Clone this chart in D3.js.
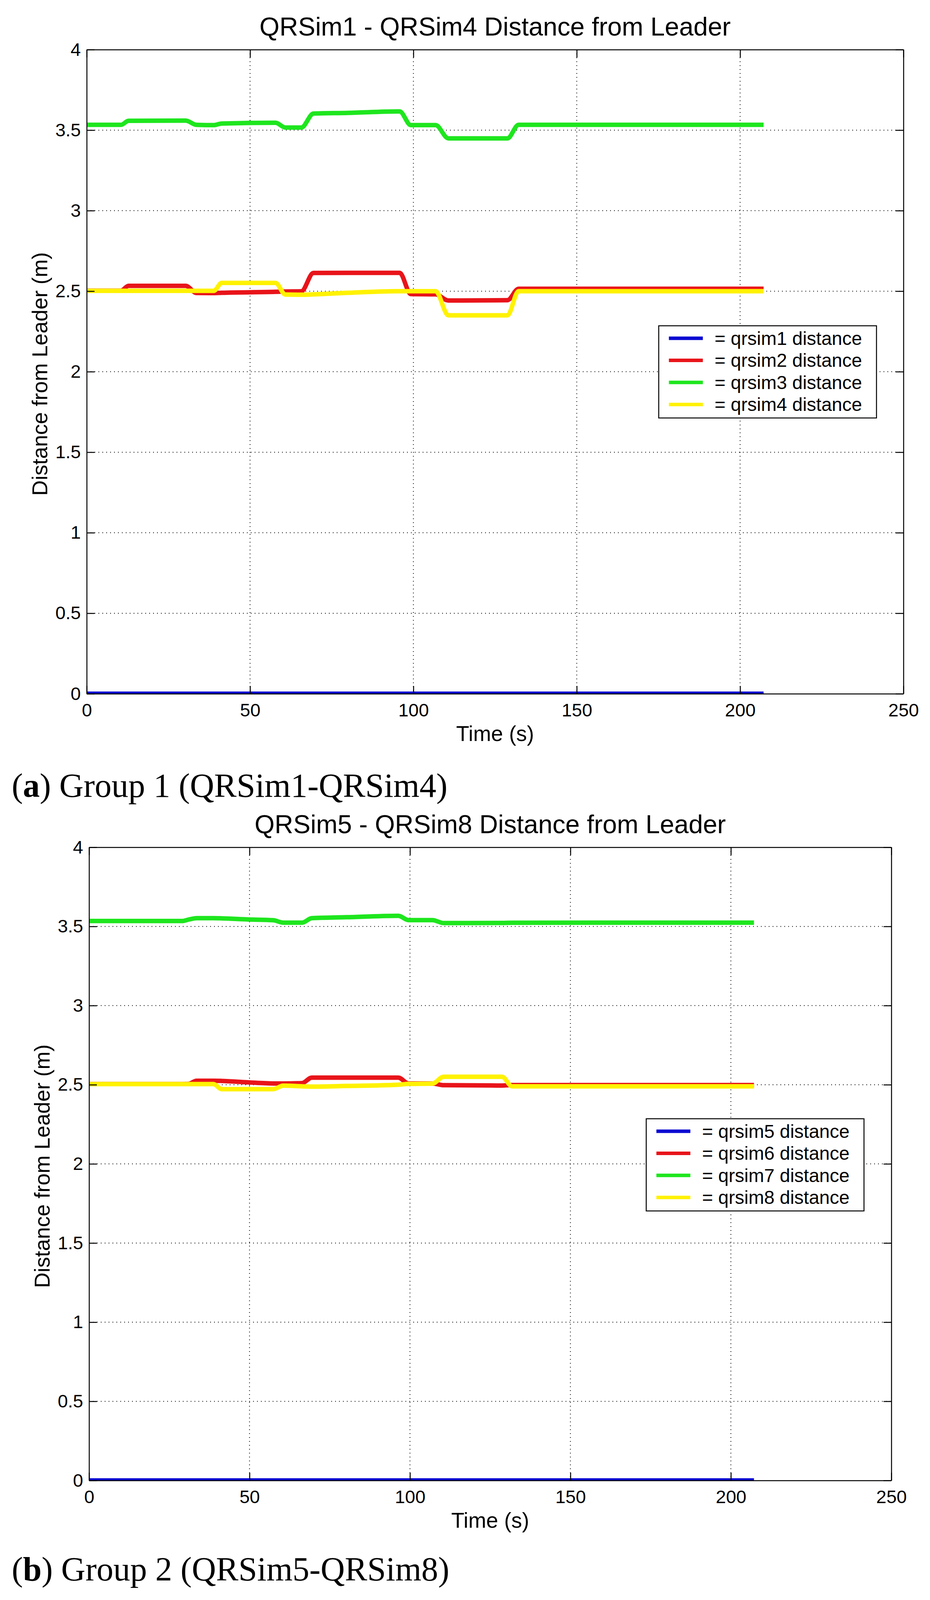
<!DOCTYPE html>
<html>
<head>
<meta charset="utf-8">
<script src="https://cdn.jsdelivr.net/npm/d3@7"></script>
<style>
  body { margin: 0; background: #fff; }
  text { font-family: "Liberation Sans", Arial, sans-serif; }
</style>
</head>
<body>
<svg id="fig"></svg>
<script>
// Two MATLAB-style panels: distance of each quadrotor from the leader.

var xTicks = [0, 50, 100, 150, 200, 250];
var yTicks = [0, 0.5, 1, 1.5, 2, 2.5, 3, 3.5, 4];
var seriesColors = ["#0a0ad2", "#e8141a", "#1ee61e", "#fff200"];

// Group 1 (QRSim1 - QRSim4)
var g1Names = ["= qrsim1 distance", "= qrsim2 distance", "= qrsim3 distance", "= qrsim4 distance"];
var g1Time   = [0, 10.5, 12.8, 30.3, 33.6, 38.9, 41.3, 57.8, 60.8, 65.7, 69.4, 80, 95.8, 99.2, 106.8, 110.7, 128.8, 132.2, 207.2];
var g1Qrsim1 = [0, 0, 0, 0, 0, 0, 0, 0, 0, 0, 0, 0, 0, 0, 0, 0, 0, 0, 0];
var g1Qrsim2 = [2.503, 2.503, 2.533, 2.533, 2.489, 2.488, 2.490, 2.496, 2.498, 2.499, 2.613, 2.614, 2.614, 2.482, 2.480, 2.442, 2.444, 2.515, 2.515];
var g1Qrsim3 = [3.533, 3.533, 3.558, 3.559, 3.533, 3.531, 3.541, 3.546, 3.516, 3.516, 3.603, 3.607, 3.616, 3.531, 3.531, 3.449, 3.449, 3.533, 3.533];
var g1Qrsim4 = [2.502, 2.502, 2.502, 2.502, 2.502, 2.502, 2.551, 2.551, 2.479, 2.478, 2.480, 2.490, 2.500, 2.500, 2.500, 2.350, 2.350, 2.500, 2.500];

// Group 2 (QRSim5 - QRSim8)
var g2Names = ["= qrsim5 distance", "= qrsim6 distance", "= qrsim7 distance", "= qrsim8 distance"];
var g2Time   = [0, 29, 31, 33.5, 38.8, 41.3, 49.4, 57.4, 60.5, 66.4, 69.4, 80, 96.4, 99.5, 107, 110.5, 128.7, 131.8, 207.2];
var g2Qrsim5 = [0, 0, 0, 0, 0, 0, 0, 0, 0, 0, 0, 0, 0, 0, 0, 0, 0, 0, 0];
var g2Qrsim6 = [2.504, 2.504, 2.505, 2.525, 2.525, 2.524, 2.515, 2.508, 2.508, 2.510, 2.545, 2.545, 2.545, 2.508, 2.508, 2.497, 2.495, 2.498, 2.498];
var g2Qrsim7 = [3.534, 3.534, 3.543, 3.552, 3.552, 3.551, 3.544, 3.539, 3.524, 3.524, 3.552, 3.558, 3.567, 3.540, 3.540, 3.521, 3.522, 3.523, 3.524];
var g2Qrsim8 = [2.504, 2.504, 2.504, 2.504, 2.504, 2.472, 2.472, 2.472, 2.494, 2.490, 2.488, 2.492, 2.500, 2.505, 2.507, 2.550, 2.550, 2.490, 2.490];

var W = 2381, H = 4114;
var svg = d3.select("#fig").attr("width", W).attr("height", H);
svg.append("rect").attr("width", W).attr("height", H).attr("fill", "#fff");

var panels = [
  { id: "p1", title: "QRSim1 - QRSim4 Distance from Leader", letter: "a", caption: ") Group 1 (QRSim1-QRSim4)",
    time: g1Time, series: [g1Qrsim1, g1Qrsim2, g1Qrsim3, g1Qrsim4], names: g1Names,
    left: 222, right: 2313, top: 127, bottom: 1776, legTop: 834, legRight: 2244, capY: 2040 },
  { id: "p2", title: "QRSim5 - QRSim8 Distance from Leader", letter: "b", caption: ") Group 2 (QRSim5-QRSim8)",
    time: g2Time, series: [g2Qrsim5, g2Qrsim6, g2Qrsim7, g2Qrsim8], names: g2Names,
    left: 228, right: 2282, top: 2169, bottom: 3790, legTop: 2864, legRight: 2212, capY: 4046 }
];

panels.forEach(drawPanel);

function drawPanel(p) {
  var x = d3.scaleLinear().domain([0, 250]).range([p.left, p.right]);
  var y = d3.scaleLinear().domain([0, 4]).range([p.bottom, p.top]);
  var g = svg.append("g");

  // dotted grid
  g.selectAll(".vg").data(xTicks.slice(1, -1)).enter().append("line")
    .attr("x1", function(d){ return x(d); }).attr("x2", function(d){ return x(d); })
    .attr("y1", p.top).attr("y2", p.bottom)
    .attr("stroke", "#000").attr("stroke-width", 2).attr("stroke-dasharray", "2,8");
  g.selectAll(".hg").data(yTicks.slice(1, -1)).enter().append("line")
    .attr("x1", p.left).attr("x2", p.right)
    .attr("y1", function(d){ return y(d); }).attr("y2", function(d){ return y(d); })
    .attr("stroke", "#000").attr("stroke-width", 2).attr("stroke-dasharray", "2,8");

  // data lines, clipped to the axes box
  svg.append("clipPath").attr("id", "clip-" + p.id)
    .append("rect").attr("x", p.left).attr("y", p.top)
    .attr("width", p.right - p.left).attr("height", p.bottom - p.top);

  var line = d3.line()
    .x(function(d, i){ return x(p.time[i]); })
    .y(function(d){ return y(d); })
    .curve(d3.curveMonotoneX);

  g.append("g").attr("clip-path", "url(#clip-" + p.id + ")")
    .selectAll("path").data(p.series).enter().append("path")
    .attr("d", line)
    .attr("fill", "none")
    .attr("stroke", function(d, i){ return seriesColors[i]; })
    .attr("stroke-width", 11.5)
    .attr("stroke-linejoin", "round");

  // axes: ticks pointing inward on all four sides
  var noLabel = function(){ return ""; };
  var axes = [
    [d3.axisBottom(x).tickValues(xTicks).tickPadding(25), "translate(0," + p.bottom + ")"],
    [d3.axisTop(x).tickValues(xTicks).tickFormat(noLabel), "translate(0," + p.top + ")"],
    [d3.axisLeft(y).tickValues(yTicks).tickFormat(d3.format("")).tickPadding(15), "translate(" + p.left + ",0)"],
    [d3.axisRight(y).tickValues(yTicks).tickFormat(noLabel), "translate(" + p.right + ",0)"]
  ];
  axes.forEach(function(a){
    var ax = g.append("g").attr("transform", a[1])
      .call(a[0].tickSize(-20).tickSizeOuter(0));
    ax.attr("font-size", 47).attr("font-family", "Liberation Sans, Arial, sans-serif");
    ax.select(".domain").attr("stroke-width", 2.5);
    ax.selectAll(".tick line").attr("stroke-width", 2.5);
    ax.selectAll(".tick text").attr("fill", "#000");
  });

  // title and axis labels
  g.append("text")
    .attr("x", (p.left + p.right) / 2).attr("y", p.top - 36)
    .attr("text-anchor", "middle").style("font-size", "66px")
    .text(p.title);
  g.append("text")
    .attr("x", (p.left + p.right) / 2).attr("y", p.bottom + 121)
    .attr("text-anchor", "middle").style("font-size", "55px")
    .text("Time (s)");
  g.append("text")
    .attr("transform", "translate(" + (p.left - 101) + "," + ((p.top + p.bottom) / 2 + 6) + ") rotate(-90)")
    .attr("text-anchor", "middle").style("font-size", "55px")
    .text("Distance from Leader (m)");

  // legend
  var rowGap = 56.5;
  var leg = g.append("g");
  var box = leg.append("rect")
    .attr("y", p.legTop).attr("height", 236)
    .attr("fill", "#fff").attr("stroke", "#000").attr("stroke-width", 2.5);
  var rows = leg.selectAll(".row").data(p.names).enter().append("g");
  var labels = rows.append("text")
    .attr("y", function(d, i){ return p.legTop + 32 + i * rowGap; })
    .attr("dy", "0.35em").style("font-size", "48px")
    .text(function(d){ return d; });
  var textW = d3.max(labels.nodes(), function(n){ return n.getComputedTextLength(); });
  var boxW = 143 + textW + 37;
  var bx = p.legRight - boxW;
  box.attr("x", bx).attr("width", boxW);
  labels.attr("x", bx + 143);
  rows.append("line")
    .attr("x1", bx + 26).attr("x2", bx + 113)
    .attr("y1", function(d, i){ return p.legTop + 32 + i * rowGap; })
    .attr("y2", function(d, i){ return p.legTop + 32 + i * rowGap; })
    .attr("stroke", function(d, i){ return seriesColors[i]; })
    .attr("stroke-width", 9);

  // caption under the panel
  var cap = svg.append("text")
    .attr("x", 30).attr("y", p.capY)
    .style("font-family", "Liberation Serif, 'Times New Roman', serif")
    .style("font-size", "86px");
  cap.append("tspan").text("(");
  cap.append("tspan").attr("font-weight", "bold").text(p.letter);
  cap.append("tspan").text(p.caption);
}
</script>
</body>
</html>
